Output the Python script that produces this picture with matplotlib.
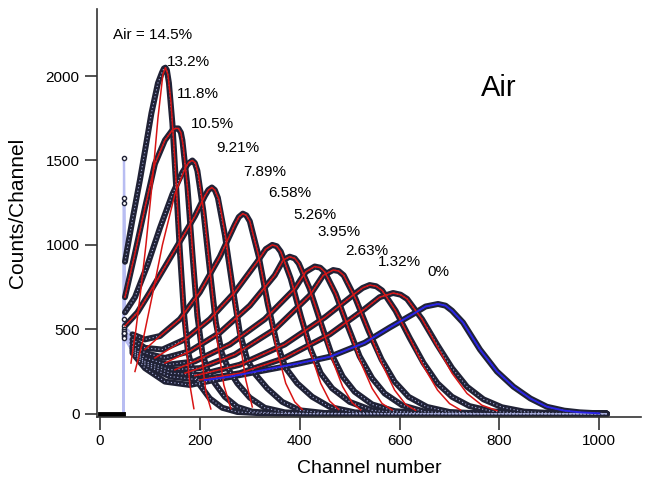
import matplotlib.pyplot as plt

plt.rcParams['font.family'] = ['Liberation Sans', 'DejaVu Sans']

# percentage labels, one per spectrum (left to right)
labels = ['Air = 14.5%', '13.2%', '11.8%', '10.5%', '9.21%', '7.89%',
          '6.58%', '5.26%', '3.95%', '2.63%', '1.32%', '0%']
label_ch = [26, 133, 154, 182, 232, 287, 336, 387, 436, 491, 556, 656]
label_ct = [2243, 2085, 1894, 1714, 1572, 1434, 1306, 1177, 1078, 966, 900, 841]

zero_ch = [0, 47]
zero_ct = [0, 0]

channels = [
    [48, 50, 66, 80, 92, 103, 116, 124, 128, 131, 134, 138, 145, 152, 160, 168, 176, 186, 200, 220, 245, 275, 320, 400, 1015],
    [48, 50, 70, 90, 110, 130, 145, 151, 157, 162, 165, 175, 185, 195, 205, 215, 230, 250, 275, 305, 350, 420, 1015],
    [48, 50, 70, 95, 120, 145, 165, 176, 185, 190, 195, 207, 220, 232, 244, 258, 275, 300, 330, 370, 430, 1015],
    [48, 50, 75, 100, 130, 160, 190, 210, 217, 224, 230, 236, 250, 265, 280, 295, 312, 335, 365, 400, 450, 520, 1015],
    [48, 65, 90, 120, 160, 200, 240, 270, 278, 286, 293, 300, 318, 336, 354, 372, 395, 425, 460, 510, 580, 1015],
    [48, 65, 90, 125, 170, 220, 270, 315, 332, 345, 354, 362, 382, 402, 422, 442, 465, 500, 545, 600, 660, 1015],
    [48, 65, 90, 130, 180, 240, 300, 350, 367, 380, 390, 398, 420, 442, 464, 486, 510, 545, 590, 650, 700, 1015],
    [48, 65, 90, 135, 190, 260, 330, 390, 412, 430, 441, 450, 472, 496, 520, 545, 570, 605, 650, 710, 760, 1015],
    [48, 65, 90, 140, 200, 270, 350, 420, 447, 467, 478, 488, 512, 538, 564, 590, 618, 655, 700, 760, 820, 1015],
    [48, 65, 90, 140, 200, 280, 370, 450, 510, 526, 540, 553, 565, 592, 620, 648, 676, 705, 740, 785, 840, 900, 1015],
    [48, 65, 90, 140, 200, 280, 370, 460, 530, 560, 587, 602, 615, 645, 675, 705, 735, 768, 805, 850, 910, 970, 1015],
    [48, 65, 90, 130, 180, 230, 300, 380, 461, 530, 580, 627, 652, 677, 692, 705, 727, 761, 795, 828, 862, 895, 930, 961, 1000, 1015],
]
counts = [
    [1515, 900, 1165, 1385, 1590, 1780, 1958, 2020, 2045, 2050, 2035, 1960, 1720, 1370, 960, 600, 370, 250, 170, 90, 35, 10, 3, 0, 0],
    [1280, 690, 950, 1220, 1480, 1620, 1680, 1690, 1690, 1665, 1620, 1350, 950, 580, 360, 260, 180, 100, 40, 12, 3, 0, 0],
    [1250, 600, 690, 880, 1100, 1300, 1430, 1480, 1500, 1485, 1440, 1200, 850, 540, 360, 260, 180, 95, 35, 8, 0, 0],
    [560, 520, 600, 720, 870, 1020, 1170, 1290, 1325, 1340, 1325, 1280, 1060, 760, 480, 320, 230, 150, 70, 20, 4, 0, 0],
    [520, 470, 440, 460, 560, 720, 930, 1120, 1165, 1185, 1175, 1140, 930, 650, 420, 270, 180, 100, 40, 8, 0, 0],
    [500, 440, 390, 380, 440, 560, 720, 900, 975, 1000, 992, 960, 800, 580, 380, 240, 150, 70, 20, 4, 0, 0],
    [490, 420, 360, 330, 370, 480, 640, 820, 910, 930, 920, 890, 740, 540, 350, 220, 130, 55, 15, 2, 0, 0],
    [480, 400, 330, 290, 310, 410, 560, 740, 840, 872, 865, 840, 710, 520, 340, 210, 120, 50, 12, 2, 0, 0],
    [470, 390, 310, 260, 270, 350, 500, 700, 820, 851, 845, 820, 680, 490, 320, 190, 100, 40, 10, 2, 0, 0],
    [460, 380, 300, 240, 230, 290, 410, 570, 710, 745, 762, 755, 730, 610, 450, 300, 180, 100, 45, 14, 3, 0, 0],
    [450, 370, 290, 220, 200, 240, 330, 470, 620, 690, 715, 705, 680, 560, 410, 270, 160, 85, 38, 12, 3, 0, 0],
    [480, 360, 270, 190, 170, 200, 240, 285, 338, 420, 510, 590, 635, 650, 640, 610, 540, 380, 250, 160, 90, 41, 18, 8, 2, 0],
]

# red fits for the first eleven spectra
fit_ch = [
    [62, 72, 80, 92, 104, 116, 126, 131, 136, 142, 150, 160, 170, 180, 188],
    [50, 70, 90, 110, 130, 145, 151, 157, 162, 167, 178, 190, 200, 212, 222],
    [70, 85, 104, 125, 150, 170, 178, 185, 191, 197, 210, 222, 235, 248, 262],
    [50, 75, 100, 130, 160, 190, 210, 217, 224, 230, 238, 252, 266, 280, 292, 305],
    [90, 120, 160, 200, 240, 270, 278, 286, 293, 300, 318, 336, 354, 372, 390, 405],
    [110, 170, 220, 270, 315, 332, 345, 354, 362, 382, 402, 422, 442, 460, 478],
    [130, 180, 240, 300, 350, 367, 380, 390, 398, 420, 442, 464, 486, 505, 522],
    [150, 190, 260, 330, 390, 412, 430, 441, 450, 472, 496, 520, 545, 565, 585],
    [170, 200, 270, 350, 420, 447, 467, 478, 488, 512, 538, 564, 590, 612, 632],
    [190, 280, 370, 450, 510, 526, 540, 553, 565, 592, 620, 648, 676, 700, 722],
    [200, 280, 370, 460, 530, 560, 587, 602, 615, 645, 675, 705, 735, 765, 795],
]
fit_ct = [
    [300, 500, 690, 1000, 1350, 1750, 2010, 2050, 2010, 1850, 1500, 980, 500, 170, 30],
    [690, 950, 1220, 1480, 1620, 1680, 1690, 1690, 1665, 1580, 1250, 780, 420, 130, 28],
    [250, 420, 690, 1000, 1300, 1450, 1490, 1500, 1485, 1420, 1150, 800, 430, 170, 30],
    [520, 600, 720, 870, 1020, 1170, 1290, 1325, 1340, 1325, 1270, 1040, 730, 430, 200, 40],
    [380, 460, 560, 720, 930, 1120, 1165, 1185, 1175, 1140, 930, 650, 380, 180, 70, 25],
    [330, 440, 560, 720, 900, 975, 1000, 992, 960, 800, 580, 360, 180, 75, 25],
    [300, 370, 480, 640, 820, 910, 930, 920, 890, 740, 540, 330, 160, 65, 22],
    [260, 310, 410, 560, 740, 840, 872, 865, 840, 710, 520, 320, 150, 60, 22],
    [240, 270, 350, 500, 700, 820, 851, 845, 820, 680, 490, 300, 140, 55, 20],
    [225, 290, 410, 570, 710, 745, 762, 755, 730, 610, 450, 280, 140, 60, 22],
    [200, 240, 330, 470, 620, 690, 715, 705, 680, 560, 400, 240, 120, 50, 18],
]

# blue fit for the 0% spectrum
blue_ch = [210, 260, 330, 400, 461, 530, 580, 627, 652, 677, 692, 705, 727, 761, 795, 828, 862, 895, 930, 961, 1000]
blue_ct = [199, 219, 260, 300, 338, 420, 510, 590, 635, 650, 640, 610, 540, 380, 250, 160, 90, 41, 18, 8, 2]

fig = plt.figure(figsize=(6.45, 4.82), dpi=100)
ax = fig.add_axes([0.1504, 0.1349, 0.8434, 0.8454])

band = '#202236'
for ch, ct in zip(channels, counts):
    # thin light connecting line incl. the jump at the first channel
    ax.plot([zero_ch[1]] + ch, [zero_ct[1]] + ct, color='#b8bdf2', lw=1.6, zorder=1)
    ax.plot(ch[1:], ct[1:], color=band, lw=4.3, solid_capstyle='round',
            solid_joinstyle='round', zorder=2)
    ax.plot(ch[1:], ct[1:], color='#aab0e0', lw=0.8, ls=(0, (1, 2.2)), zorder=2.5)
    ax.plot(ch[:1], ct[:1], 'o', ms=3, mfc='white', mec=band, mew=1, zorder=3)
ax.plot(zero_ch, zero_ct, color='black', lw=3.5, zorder=2)

for ch, ct in zip(fit_ch, fit_ct):
    ax.plot(ch, ct, color='#d81414', lw=1.1, zorder=4)
ax.plot(blue_ch, blue_ct, color='#2a24e6', lw=1.4, zorder=4)

for txt, x, y in zip(labels, label_ch, label_ct):
    ax.text(x, y, txt, fontsize=11, va='center', ha='left', zorder=5)
ax.text(763, 1932, 'Air', fontsize=21, va='center', ha='left')

ax.set_xlim(-6, 1083.5)
ax.set_ylim(-19.5, 2394.5)
ax.set_xticks([0, 200, 400, 600, 800, 1000])
ax.set_yticks([0, 500, 1000, 1500, 2000])
ax.tick_params(direction='out', length=9, width=1.2, color='#333333', labelsize=11)
for side in ['top', 'right']:
    ax.spines[side].set_visible(False)
for side in ['left', 'bottom']:
    ax.spines[side].set_linewidth(1.2)
    ax.spines[side].set_color('#333333')
ax.set_xlabel('Channel number', fontsize=14)
ax.set_ylabel('Counts/Channel', fontsize=15)
ax.xaxis.set_label_coords(0.5, -0.105)
ax.yaxis.set_label_coords(-0.128, 0.5)

fig.savefig('out.png', dpi=100)
